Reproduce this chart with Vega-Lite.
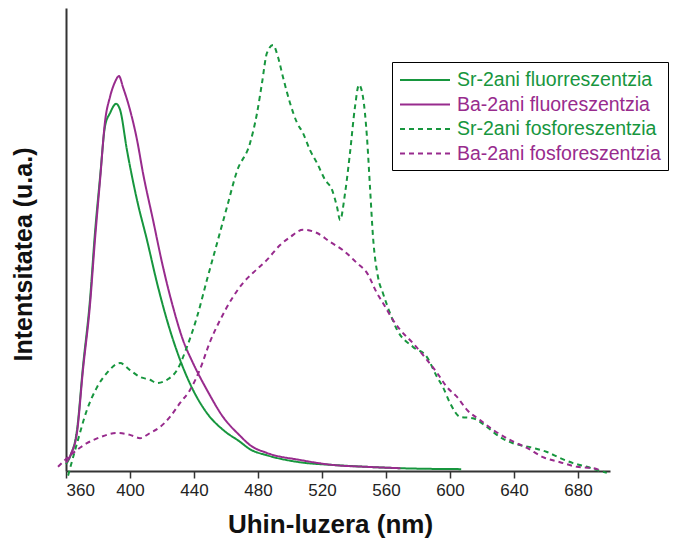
{
  "$schema": "https://vega.github.io/schema/vega-lite/v6.json",
  "width": 544,
  "height": 463,
  "autosize": "none",
  "padding": {"left": 66, "top": 8, "right": 71, "bottom": 74},
  "background": "white",
  "config": {"view": {"stroke": null}, "font": "Liberation Sans"},
  "data": {"values": [
    {"s": "Sr-2ani fluorreszentzia", "nm": 360, "v": 1.5},
    {"s": "Sr-2ani fluorreszentzia", "nm": 363, "v": 3.5},
    {"s": "Sr-2ani fluorreszentzia", "nm": 366.9, "v": 8.9},
    {"s": "Sr-2ani fluorreszentzia", "nm": 370.6, "v": 22.5},
    {"s": "Sr-2ani fluorreszentzia", "nm": 375, "v": 37},
    {"s": "Sr-2ani fluorreszentzia", "nm": 378.1, "v": 51.4},
    {"s": "Sr-2ani fluorreszentzia", "nm": 381.3, "v": 63.5},
    {"s": "Sr-2ani fluorreszentzia", "nm": 384.4, "v": 74.5},
    {"s": "Sr-2ani fluorreszentzia", "nm": 387.5, "v": 77.3},
    {"s": "Sr-2ani fluorreszentzia", "nm": 391.3, "v": 79.3},
    {"s": "Sr-2ani fluorreszentzia", "nm": 393.8, "v": 78},
    {"s": "Sr-2ani fluorreszentzia", "nm": 398.1, "v": 69.3},
    {"s": "Sr-2ani fluorreszentzia", "nm": 404.4, "v": 58.5},
    {"s": "Sr-2ani fluorreszentzia", "nm": 410.6, "v": 49.9},
    {"s": "Sr-2ani fluorreszentzia", "nm": 416.9, "v": 40.6},
    {"s": "Sr-2ani fluorreszentzia", "nm": 423.1, "v": 32.6},
    {"s": "Sr-2ani fluorreszentzia", "nm": 431.3, "v": 24},
    {"s": "Sr-2ani fluorreszentzia", "nm": 439.4, "v": 17.5},
    {"s": "Sr-2ani fluorreszentzia", "nm": 448.1, "v": 12.5},
    {"s": "Sr-2ani fluorreszentzia", "nm": 458.1, "v": 8.9},
    {"s": "Sr-2ani fluorreszentzia", "nm": 468.8, "v": 6.3},
    {"s": "Sr-2ani fluorreszentzia", "nm": 475, "v": 4.7},
    {"s": "Sr-2ani fluorreszentzia", "nm": 485.6, "v": 3.4},
    {"s": "Sr-2ani fluorreszentzia", "nm": 506, "v": 1.9},
    {"s": "Sr-2ani fluorreszentzia", "nm": 527, "v": 1.3},
    {"s": "Sr-2ani fluorreszentzia", "nm": 548, "v": 0.9},
    {"s": "Sr-2ani fluorreszentzia", "nm": 569, "v": 0.6},
    {"s": "Sr-2ani fluorreszentzia", "nm": 607, "v": 0.4},

    {"s": "Ba-2ani fluoreszentzia", "nm": 360, "v": 1.8},
    {"s": "Ba-2ani fluoreszentzia", "nm": 363, "v": 3.6},
    {"s": "Ba-2ani fluoreszentzia", "nm": 366.9, "v": 8.4},
    {"s": "Ba-2ani fluoreszentzia", "nm": 370.6, "v": 21.8},
    {"s": "Ba-2ani fluoreszentzia", "nm": 375, "v": 35.9},
    {"s": "Ba-2ani fluoreszentzia", "nm": 378.1, "v": 49.9},
    {"s": "Ba-2ani fluoreszentzia", "nm": 381.3, "v": 62.9},
    {"s": "Ba-2ani fluoreszentzia", "nm": 384.4, "v": 75.5},
    {"s": "Ba-2ani fluoreszentzia", "nm": 387.5, "v": 80.8},
    {"s": "Ba-2ani fluoreszentzia", "nm": 390.6, "v": 84},
    {"s": "Ba-2ani fluoreszentzia", "nm": 393.1, "v": 85.3},
    {"s": "Ba-2ani fluoreszentzia", "nm": 395.6, "v": 82.9},
    {"s": "Ba-2ani fluoreszentzia", "nm": 400, "v": 78},
    {"s": "Ba-2ani fluoreszentzia", "nm": 404.4, "v": 71.5},
    {"s": "Ba-2ani fluoreszentzia", "nm": 408.1, "v": 64.4},
    {"s": "Ba-2ani fluoreszentzia", "nm": 414.4, "v": 54.2},
    {"s": "Ba-2ani fluoreszentzia", "nm": 420.6, "v": 44.1},
    {"s": "Ba-2ani fluoreszentzia", "nm": 426.9, "v": 35.4},
    {"s": "Ba-2ani fluoreszentzia", "nm": 433.1, "v": 28.3},
    {"s": "Ba-2ani fluoreszentzia", "nm": 439.4, "v": 23.3},
    {"s": "Ba-2ani fluoreszentzia", "nm": 448.1, "v": 17.5},
    {"s": "Ba-2ani fluoreszentzia", "nm": 458.1, "v": 11.7},
    {"s": "Ba-2ani fluoreszentzia", "nm": 468.8, "v": 7.6},
    {"s": "Ba-2ani fluoreszentzia", "nm": 475, "v": 5.6},
    {"s": "Ba-2ani fluoreszentzia", "nm": 485.6, "v": 3.9},
    {"s": "Ba-2ani fluoreszentzia", "nm": 506, "v": 2.4},
    {"s": "Ba-2ani fluoreszentzia", "nm": 527, "v": 1.3},
    {"s": "Ba-2ani fluoreszentzia", "nm": 548, "v": 0.9},
    {"s": "Ba-2ani fluoreszentzia", "nm": 569, "v": 0.6},

    {"s": "Sr-2ani fosforeszentzia", "nm": 361.3, "v": -1},
    {"s": "Sr-2ani fosforeszentzia", "nm": 366.9, "v": 6},
    {"s": "Sr-2ani fosforeszentzia", "nm": 373.1, "v": 13.2},
    {"s": "Sr-2ani fosforeszentzia", "nm": 379.4, "v": 18.1},
    {"s": "Sr-2ani fosforeszentzia", "nm": 385.6, "v": 21.2},
    {"s": "Sr-2ani fosforeszentzia", "nm": 393.8, "v": 23.3},
    {"s": "Sr-2ani fosforeszentzia", "nm": 400, "v": 21.8},
    {"s": "Sr-2ani fosforeszentzia", "nm": 406.3, "v": 20.3},
    {"s": "Sr-2ani fosforeszentzia", "nm": 412.5, "v": 19.7},
    {"s": "Sr-2ani fosforeszentzia", "nm": 416.9, "v": 19},
    {"s": "Sr-2ani fosforeszentzia", "nm": 423.1, "v": 19.7},
    {"s": "Sr-2ani fosforeszentzia", "nm": 429.4, "v": 21.8},
    {"s": "Sr-2ani fosforeszentzia", "nm": 435.6, "v": 26.8},
    {"s": "Sr-2ani fosforeszentzia", "nm": 441.9, "v": 33.3},
    {"s": "Sr-2ani fosforeszentzia", "nm": 448.1, "v": 41.3},
    {"s": "Sr-2ani fosforeszentzia", "nm": 454.4, "v": 49.2},
    {"s": "Sr-2ani fosforeszentzia", "nm": 460.6, "v": 57},
    {"s": "Sr-2ani fosforeszentzia", "nm": 466.9, "v": 64.8},
    {"s": "Sr-2ani fosforeszentzia", "nm": 475, "v": 70.8},
    {"s": "Sr-2ani fosforeszentzia", "nm": 479.4, "v": 77.3},
    {"s": "Sr-2ani fosforeszentzia", "nm": 482.5, "v": 83.8},
    {"s": "Sr-2ani fosforeszentzia", "nm": 485.6, "v": 90.3},
    {"s": "Sr-2ani fosforeszentzia", "nm": 489.4, "v": 92},
    {"s": "Sr-2ani fosforeszentzia", "nm": 492.5, "v": 89.4},
    {"s": "Sr-2ani fosforeszentzia", "nm": 495.6, "v": 85.1},
    {"s": "Sr-2ani fosforeszentzia", "nm": 500, "v": 79.5},
    {"s": "Sr-2ani fosforeszentzia", "nm": 504.4, "v": 75.2},
    {"s": "Sr-2ani fosforeszentzia", "nm": 508.1, "v": 73},
    {"s": "Sr-2ani fosforeszentzia", "nm": 512.5, "v": 69.3},
    {"s": "Sr-2ani fosforeszentzia", "nm": 516.9, "v": 66.5},
    {"s": "Sr-2ani fosforeszentzia", "nm": 521.9, "v": 62.9},
    {"s": "Sr-2ani fosforeszentzia", "nm": 526.3, "v": 60.7},
    {"s": "Sr-2ani fosforeszentzia", "nm": 529.4, "v": 57},
    {"s": "Sr-2ani fosforeszentzia", "nm": 531.3, "v": 54.2},
    {"s": "Sr-2ani fosforeszentzia", "nm": 534.4, "v": 60},
    {"s": "Sr-2ani fosforeszentzia", "nm": 537.5, "v": 68.7},
    {"s": "Sr-2ani fosforeszentzia", "nm": 540.6, "v": 78.6},
    {"s": "Sr-2ani fosforeszentzia", "nm": 543.1, "v": 83.4},
    {"s": "Sr-2ani fosforeszentzia", "nm": 545.6, "v": 80.8},
    {"s": "Sr-2ani fosforeszentzia", "nm": 548.1, "v": 72.1},
    {"s": "Sr-2ani fosforeszentzia", "nm": 550, "v": 61.3},
    {"s": "Sr-2ani fosforeszentzia", "nm": 551.9, "v": 50.5},
    {"s": "Sr-2ani fosforeszentzia", "nm": 555, "v": 41.9},
    {"s": "Sr-2ani fosforeszentzia", "nm": 558.1, "v": 38.4},
    {"s": "Sr-2ani fosforeszentzia", "nm": 562.5, "v": 34.1},
    {"s": "Sr-2ani fosforeszentzia", "nm": 566.9, "v": 30.5},
    {"s": "Sr-2ani fosforeszentzia", "nm": 576.9, "v": 26.8},
    {"s": "Sr-2ani fosforeszentzia", "nm": 585.6, "v": 24.6},
    {"s": "Sr-2ani fosforeszentzia", "nm": 591.9, "v": 20.3},
    {"s": "Sr-2ani fosforeszentzia", "nm": 595.6, "v": 18.1},
    {"s": "Sr-2ani fosforeszentzia", "nm": 600, "v": 14.7},
    {"s": "Sr-2ani fosforeszentzia", "nm": 606.3, "v": 11.7},
    {"s": "Sr-2ani fosforeszentzia", "nm": 614.4, "v": 11.4},
    {"s": "Sr-2ani fosforeszentzia", "nm": 623.1, "v": 9.5},
    {"s": "Sr-2ani fosforeszentzia", "nm": 631.3, "v": 7.3},
    {"s": "Sr-2ani fosforeszentzia", "nm": 639.4, "v": 6},
    {"s": "Sr-2ani fosforeszentzia", "nm": 651.9, "v": 5},
    {"s": "Sr-2ani fosforeszentzia", "nm": 660.6, "v": 4.1},
    {"s": "Sr-2ani fosforeszentzia", "nm": 668.8, "v": 2.8},
    {"s": "Sr-2ani fosforeszentzia", "nm": 676.9, "v": 1.7},
    {"s": "Sr-2ani fosforeszentzia", "nm": 685.6, "v": 0.9},
    {"s": "Sr-2ani fosforeszentzia", "nm": 693.8, "v": 0},
    {"s": "Sr-2ani fosforeszentzia", "nm": 698, "v": -0.4},

    {"s": "Ba-2ani fosforeszentzia", "nm": 355, "v": 0.9},
    {"s": "Ba-2ani fosforeszentzia", "nm": 364.4, "v": 3.9},
    {"s": "Ba-2ani fosforeszentzia", "nm": 373.1, "v": 6},
    {"s": "Ba-2ani fosforeszentzia", "nm": 381.3, "v": 7.3},
    {"s": "Ba-2ani fosforeszentzia", "nm": 391.9, "v": 8.2},
    {"s": "Ba-2ani fosforeszentzia", "nm": 400, "v": 7.8},
    {"s": "Ba-2ani fosforeszentzia", "nm": 406.3, "v": 7.1},
    {"s": "Ba-2ani fosforeszentzia", "nm": 412.5, "v": 8.2},
    {"s": "Ba-2ani fosforeszentzia", "nm": 418.8, "v": 9.5},
    {"s": "Ba-2ani fosforeszentzia", "nm": 425, "v": 11.7},
    {"s": "Ba-2ani fosforeszentzia", "nm": 431.3, "v": 14.7},
    {"s": "Ba-2ani fosforeszentzia", "nm": 437.5, "v": 17.5},
    {"s": "Ba-2ani fosforeszentzia", "nm": 443.8, "v": 22},
    {"s": "Ba-2ani fosforeszentzia", "nm": 450, "v": 27.9},
    {"s": "Ba-2ani fosforeszentzia", "nm": 456.3, "v": 32.6},
    {"s": "Ba-2ani fosforeszentzia", "nm": 464.4, "v": 37.6},
    {"s": "Ba-2ani fosforeszentzia", "nm": 470.6, "v": 40.6},
    {"s": "Ba-2ani fosforeszentzia", "nm": 476.9, "v": 42.8},
    {"s": "Ba-2ani fosforeszentzia", "nm": 485.6, "v": 45.6},
    {"s": "Ba-2ani fosforeszentzia", "nm": 493.8, "v": 48.8},
    {"s": "Ba-2ani fosforeszentzia", "nm": 500, "v": 50.5},
    {"s": "Ba-2ani fosforeszentzia", "nm": 508.1, "v": 52.1},
    {"s": "Ba-2ani fosforeszentzia", "nm": 516.9, "v": 51.4},
    {"s": "Ba-2ani fosforeszentzia", "nm": 525, "v": 49.5},
    {"s": "Ba-2ani fosforeszentzia", "nm": 533.1, "v": 47.7},
    {"s": "Ba-2ani fosforeszentzia", "nm": 541.9, "v": 44.9},
    {"s": "Ba-2ani fosforeszentzia", "nm": 548.1, "v": 42.8},
    {"s": "Ba-2ani fosforeszentzia", "nm": 554.4, "v": 38.4},
    {"s": "Ba-2ani fosforeszentzia", "nm": 558.1, "v": 36.3},
    {"s": "Ba-2ani fosforeszentzia", "nm": 564.4, "v": 32.6},
    {"s": "Ba-2ani fosforeszentzia", "nm": 568.8, "v": 30.5},
    {"s": "Ba-2ani fosforeszentzia", "nm": 576.9, "v": 27.6},
    {"s": "Ba-2ani fosforeszentzia", "nm": 585.6, "v": 24},
    {"s": "Ba-2ani fosforeszentzia", "nm": 591.9, "v": 21.2},
    {"s": "Ba-2ani fosforeszentzia", "nm": 598.1, "v": 18.1},
    {"s": "Ba-2ani fosforeszentzia", "nm": 604.4, "v": 16},
    {"s": "Ba-2ani fosforeszentzia", "nm": 610.6, "v": 13.2},
    {"s": "Ba-2ani fosforeszentzia", "nm": 618.8, "v": 11},
    {"s": "Ba-2ani fosforeszentzia", "nm": 626.9, "v": 8.9},
    {"s": "Ba-2ani fosforeszentzia", "nm": 637.5, "v": 6.7},
    {"s": "Ba-2ani fosforeszentzia", "nm": 648.1, "v": 5},
    {"s": "Ba-2ani fosforeszentzia", "nm": 658.1, "v": 3},
    {"s": "Ba-2ani fosforeszentzia", "nm": 668.8, "v": 1.9},
    {"s": "Ba-2ani fosforeszentzia", "nm": 679.4, "v": 0.9},
    {"s": "Ba-2ani fosforeszentzia", "nm": 689.4, "v": 0.6},
    {"s": "Ba-2ani fosforeszentzia", "nm": 693.8, "v": 0.2}
  ]},
  "mark": {"type": "line", "strokeWidth": 2, "interpolate": "monotone", "clip": false},
  "encoding": {
    "x": {
      "field": "nm", "type": "quantitative",
      "scale": {"domain": [360, 700], "nice": false, "zero": false},
      "axis": {
        "title": "Uhin-luzera (nm)",
        "values": [360, 400, 440, 480, 520, 560, 600, 640, 680],
        "grid": false,
        "domainColor": "#333", "domainWidth": 2,
        "tickColor": "#333", "tickWidth": 1.5, "tickSize": 7,
        "labelFontSize": 17, "labelColor": "#222", "labelPadding": 4,
        "titleFontSize": 26, "titleFontWeight": "bold", "titleColor": "#111",
        "titlePadding": 13, "titleX": 264, "titleAlign": "center"
      }
    },
    "y": {
      "field": "v", "type": "quantitative",
      "scale": {"domain": [0, 100]},
      "axis": {
        "title": "Intentsitatea (u.a.)",
        "labels": false, "ticks": false, "grid": false,
        "domainColor": "#333", "domainWidth": 2,
        "titleFontSize": 25, "titleFontWeight": "bold", "titleColor": "#111",
        "titleX": -43, "titleY": 246, "titleAngle": -90,
        "titleAlign": "center", "titleBaseline": "middle"
      }
    },
    "color": {
      "field": "s", "type": "nominal",
      "scale": {
        "domain": ["Sr-2ani fluorreszentzia", "Ba-2ani fluoreszentzia", "Sr-2ani fosforeszentzia", "Ba-2ani fosforeszentzia"],
        "range": ["#17963e", "#982b8d", "#17963e", "#982b8d"]
      },
      "legend": {
        "title": null, "orient": "none", "legendX": 326, "legendY": 54,
        "strokeColor": "#000", "fillColor": "white", "padding": 7,
        "symbolType": "M-2.5,0H2.5", "symbolSize": 400, "symbolStrokeWidth": 2,
        "symbolOffset": 15,
        "labelFontSize": 19.5, "labelOffset": 21, "rowPadding": 3.5, "labelLimit": 320,
        "encode": {"labels": {"update": {"fill": {"scale": "color", "field": "value"}}}}
      }
    },
    "strokeDash": {
      "field": "s", "type": "nominal",
      "scale": {
        "domain": ["Sr-2ani fluorreszentzia", "Ba-2ani fluoreszentzia", "Sr-2ani fosforeszentzia", "Ba-2ani fosforeszentzia"],
        "range": [[1, 0], [1, 0], [5, 4], [5, 4]]
      },
      "legend": {
        "title": null, "orient": "none", "legendX": 326, "legendY": 54,
        "strokeColor": "#000", "fillColor": "white", "padding": 7,
        "symbolType": "M-2.5,0H2.5", "symbolSize": 400, "symbolStrokeWidth": 2,
        "symbolOffset": 15,
        "labelFontSize": 19.5, "labelOffset": 21, "rowPadding": 3.5, "labelLimit": 320,
        "encode": {"labels": {"update": {"fill": {"scale": "color", "field": "value"}}}}
      }
    }
  }
}
